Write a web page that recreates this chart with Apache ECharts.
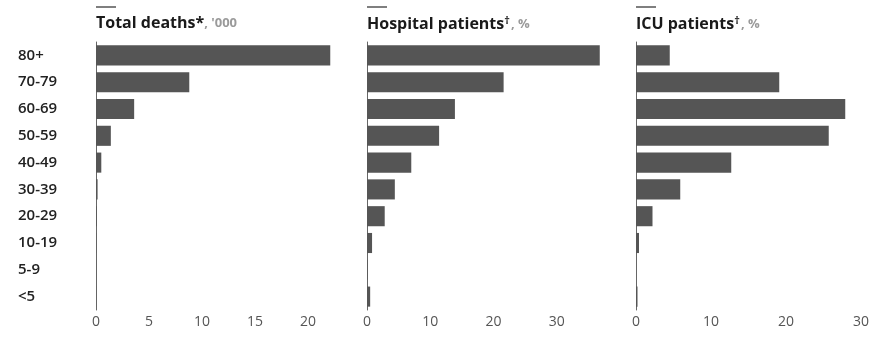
<!DOCTYPE html>
<html><head><meta charset="utf-8">
<script src="https://cdn.jsdelivr.net/npm/echarts@6/dist/echarts.min.js"></script>
<style>html,body{margin:0;padding:0;background:#fff}#c{width:872px;height:339px}</style>
</head><body><div id="c"></div>
<script>
const ageGroups = ['80+','70-79','60-69','50-59','40-49','30-39','20-29','10-19','5-9','<5'];
const totalDeaths = [22.1, 8.8, 3.6, 1.4, 0.5, 0.15, 0.06, 0.02, 0.01, 0.01];
const hospitalPatients = [36.8, 21.6, 13.9, 11.4, 7.0, 4.4, 2.8, 0.8, 0.1, 0.5];
const icuPatients = [4.5, 19.1, 27.9, 25.7, 12.7, 5.9, 2.2, 0.4, 0.0, 0.2];
const deathTicks = [0,5,10,15,20];
const hospTicks = [0,10,20,30];
const icuTicks = [0,10,20,30];

const chart = echarts.init(document.getElementById('c'));
const font = '"Open Sans", "Noto Sans", sans-serif';
const gridTop = 42, gridH = 268;
const grids = [
  {left:96, top:gridTop, width:265, height:gridH},
  {left:367, top:gridTop, width:253, height:gridH},
  {left:636, top:gridTop, width:229, height:gridH}
];
const xMax = [25, 40, 30];
const xIntervals = [5, 10, 10];
const datasets = [totalDeaths, hospitalPatients, icuPatients];
const titles = [
  ['Total deaths*', '', ", '000"],
  ['Hospital patients', '†', ', %'],
  ['ICU patients', '†', ', %']
];
const option = {
  animation:false,
  backgroundColor:'#fff',
  title: titles.map((t,i)=>({
    left: grids[i].left, top: 15, padding:0,
    text: '{b|'+t[0]+'}' + (t[1] ? '{s|'+t[1]+'}' : '') + '{u|'+t[2]+'}',
    textStyle:{ rich:{
      b:{fontFamily:font, fontSize:16, fontWeight:'bold', color:'#1a1a1a'},
      s:{fontFamily:font, fontSize:11, fontWeight:'bold', color:'#1a1a1a', verticalAlign:'top', padding:[0,1,7,0]},
      u:{fontFamily:font, fontSize:13, color:'#9a9a9a'}
    }}
  })),
  graphic: grids.map(g=>({type:'line', shape:{x1:g.left, y1:7, x2:g.left+20, y2:7}, style:{stroke:'#555', lineWidth:1.5}})),
  grid: grids,
  xAxis: grids.map((g,i)=>({
    gridIndex:i, type:'value', min:0, max:xMax[i], interval:xIntervals[i],
    axisLine:{show:false}, axisTick:{show:false}, splitLine:{show:false},
    axisLabel:{color:'#555', fontSize:14, fontFamily:font, margin:5,
      formatter: v => ([deathTicks,hospTicks,icuTicks][i].includes(v) ? String(v) : '')}
  })),
  yAxis: grids.map((g,i)=>({
    gridIndex:i, type:'category', data:ageGroups, inverse:true,
    axisLine:{show:true, lineStyle:{color:'#666', width:1}},
    axisTick:{show:false},
    axisLabel:{show:i===0, align:'left', margin:78, color:'#222', fontSize:15, fontWeight:600, fontFamily:font}
  })),
  series: datasets.map((d,i)=>({
    type:'bar', xAxisIndex:i, yAxisIndex:i, data:d,
    barCategoryGap:'25%',
    itemStyle:{color:'#555555'}
  }))
};
chart.setOption(option);
</script></body></html>
